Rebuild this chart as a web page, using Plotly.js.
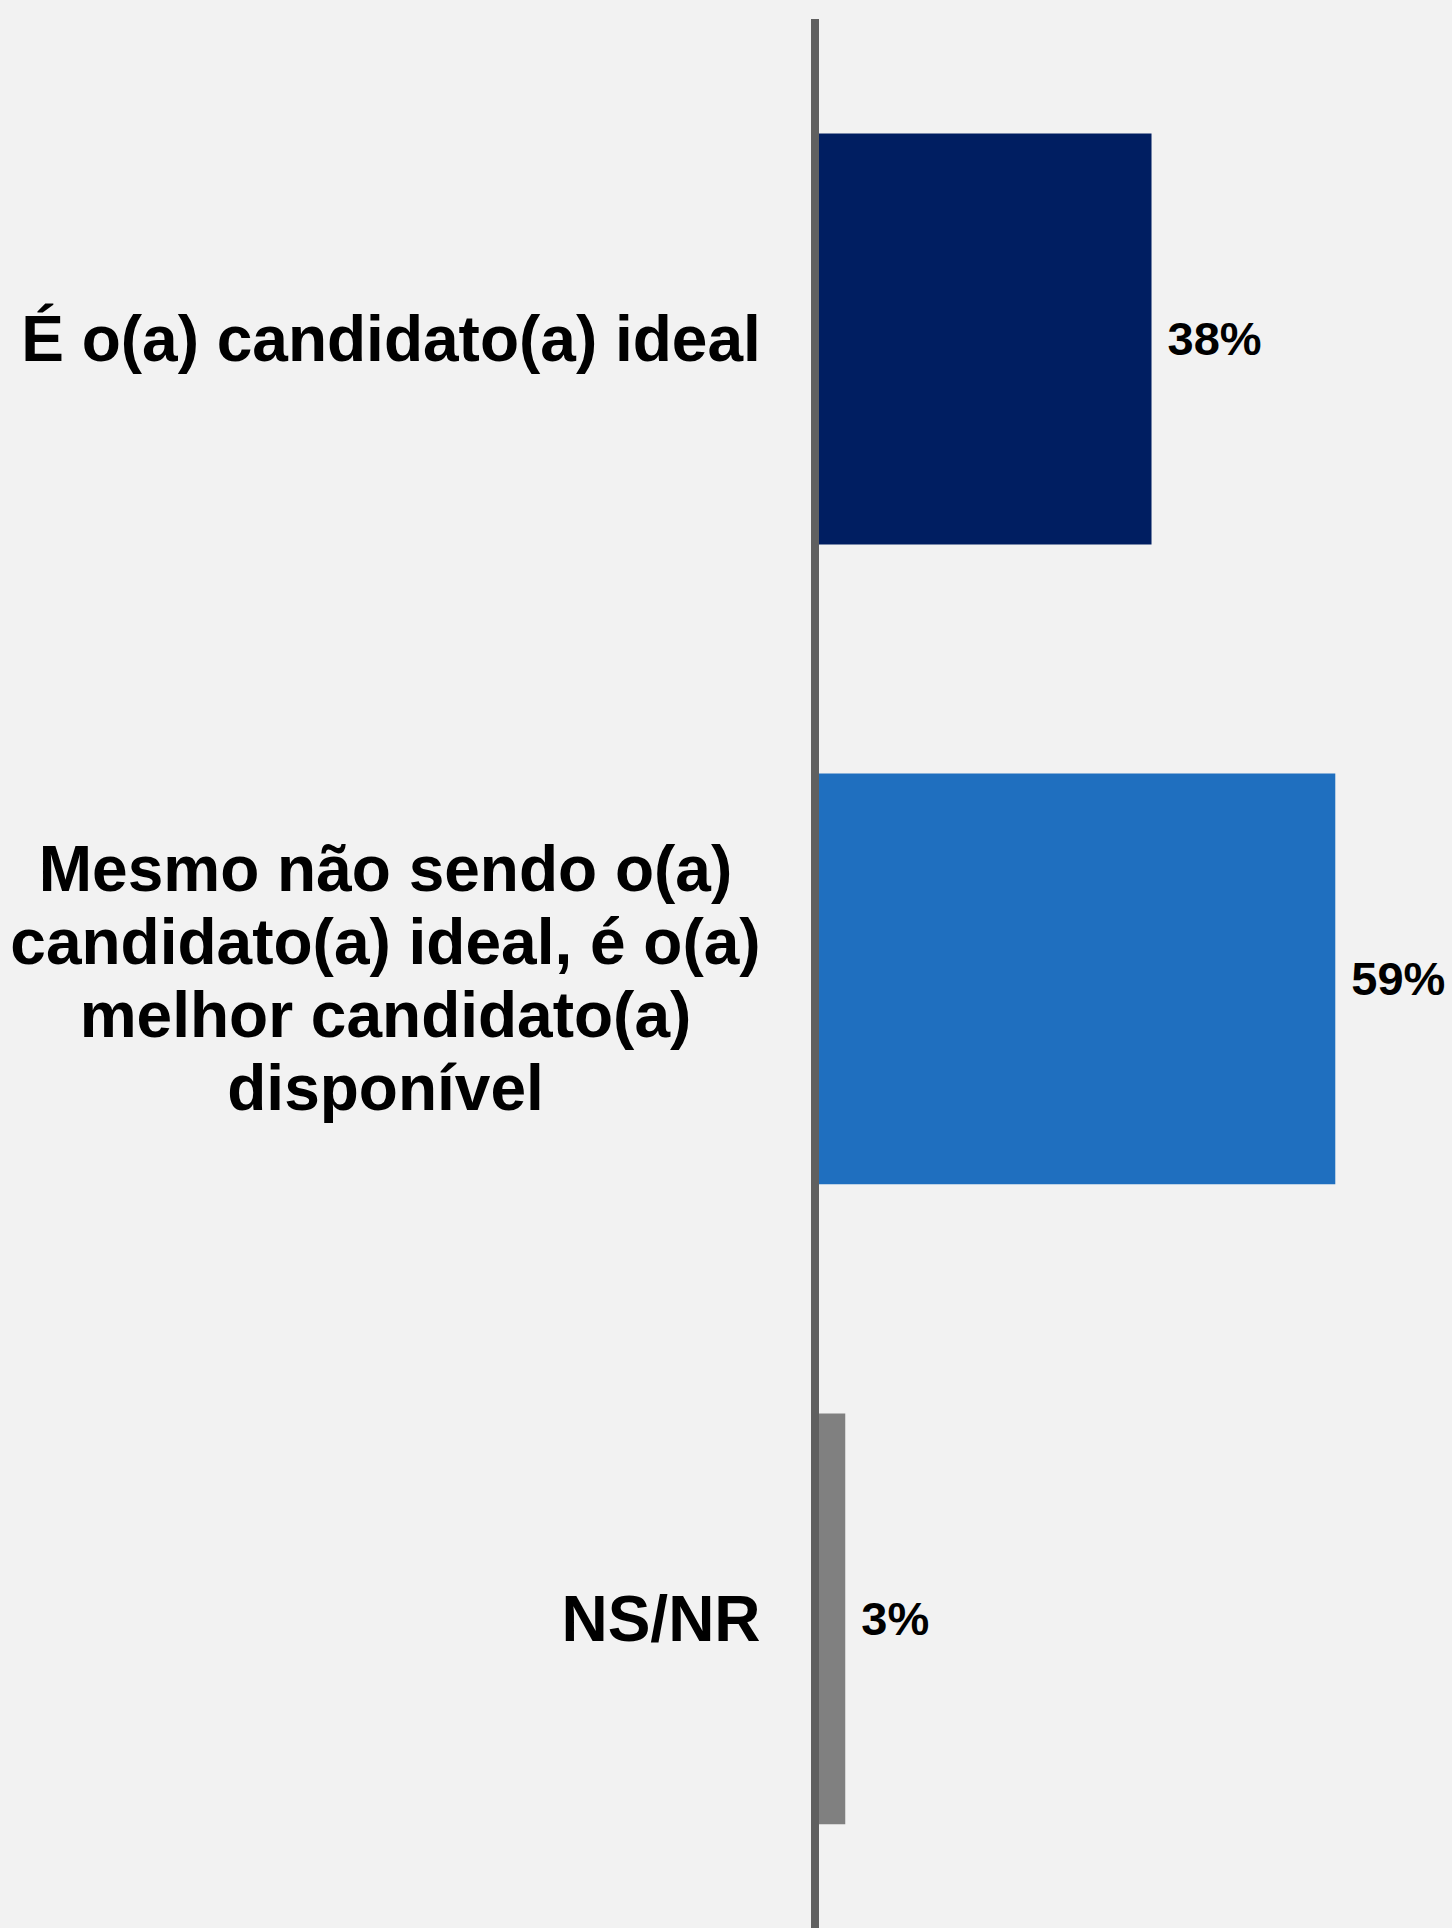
<!DOCTYPE html>
<html><head><meta charset="utf-8">
<script src="https://cdn.plot.ly/plotly-3.0.1.min.js"></script>
<style>html,body{margin:0;padding:0;background:#F2F2F2;}#chart{width:1452px;height:1928px;}</style>
</head><body><div id="chart"></div>
<script>
const categories = ["É o(a) candidato(a) ideal", "Mesmo não sendo o(a)<br>candidato(a) ideal, é o(a)<br>melhor candidato(a)<br>disponível", "NS/NR"];
const values = [38, 59, 3];
const valueLabels = ["38%", "59%", "3%"];
const barColors = ["#001E61", "#1F6FBF", "#808080"];

const labelFont = 'Liberation Sans, Arial, sans-serif';
const labelSize = 64;
const lineStep = 73;

const canvas = document.createElement('canvas');
const ctx = canvas.getContext('2d');
ctx.font = 'bold ' + labelSize + 'px "Liberation Sans", Arial, sans-serif';

const annotations = [];
categories.forEach(cat => {
  const lines = cat.split('<br>');
  const w = Math.max(...lines.map(l => ctx.measureText(l).width));
  lines.forEach((line, i) => {
    annotations.push({
      xref: 'paper', yref: 'y', x: 0, y: cat, xanchor: 'right', yanchor: 'middle',
      xshift: -55, yshift: -(i - (lines.length - 1) / 2) * lineStep,
      text: line, showarrow: false, width: Math.ceil(w) + 2, align: 'center',
      font: {family: labelFont, size: labelSize, color: '#000000', weight: 'bold'}
    });
  });
});

const trace = {
  type: 'bar', orientation: 'h',
  y: categories, x: values,
  text: valueLabels.map(t => '\u00a0' + t),
  textposition: 'outside', cliponaxis: false,
  textfont: {family: labelFont, size: 47, color: '#000000', weight: 'bold'},
  marker: {color: barColors},
  width: 0.642,
  hoverinfo: 'none'
};

const layout = {
  width: 1452, height: 1928,
  margin: {l: 819, r: 2, t: 19, b: 0, pad: 0},
  paper_bgcolor: '#F2F2F2', plot_bgcolor: '#F2F2F2',
  showlegend: false,
  xaxis: {range: [0, 72.11], showgrid: false, zeroline: false, showticklabels: false, showline: false, ticks: ''},
  yaxis: {type: 'category', categoryorder: 'array', categoryarray: categories, range: [2.483, -0.5],
          showticklabels: false, showline: true, linewidth: 8, linecolor: '#606060',
          ticks: '', showgrid: false, zeroline: false},
  annotations: annotations
};

Plotly.newPlot('chart', [trace], layout, {staticPlot: true, displayModeBar: false});
</script>
</body></html>
